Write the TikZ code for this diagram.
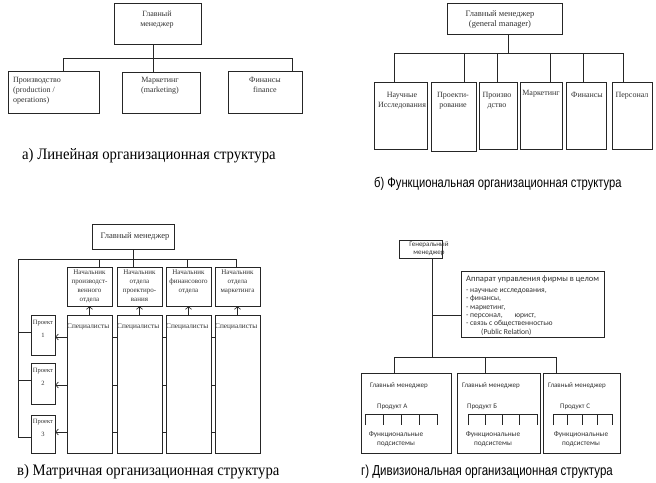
\documentclass[tikz,border=0pt]{standalone}
\usepackage{fontspec}
\setmainfont{Liberation Serif}
\newfontfamily\capsans[FakeStretch=0.80]{Liberation Sans}
\newfontfamily\capserif[FakeStretch=0.92]{Liberation Serif}
\newfontfamily\calfont{Carlito}
\usetikzlibrary{arrows.meta,backgrounds,fit}
\begin{document}
\begin{tikzpicture}[x=1pt,y=-1pt,
  ln/.style={draw=black!85, line width=0.65pt},
  box/.style={ln, fill=white, inner sep=0pt},
  arr/.style={ln, -{Straight Barb[length=2.6pt,width=6pt]}},
  txt/.style={inner sep=0pt, text=black!80, align=center, font=\fontsize{8}{10}\selectfont},
  smalltxt/.style={inner sep=0pt, text=black!80, align=center, font=\fontsize{7}{9}\selectfont},
  dtxt/.style={inner sep=0pt, text=black!80, align=left, font=\calfont\fontsize{7}{8.6}\selectfont},
  capA/.style={inner sep=0pt, anchor=west, font=\capserif\fontsize{16}{18}\selectfont},
  capB/.style={inner sep=0pt, anchor=west, font=\capsans\fontsize{14}{16}\selectfont}
]
\useasboundingbox (0,0) rectangle (656,482);

% ---------------- a) linear
\node[box, fit={(114,3)(201,44)}] (a0) {};
\node[txt, anchor=north] (a0t) at (157,11) {Главный\\менеджер};
\node[box, fit={(8,71)(99,113)}] (a1) {};
\node[txt, anchor=north west, align=left] (a1t) at (13,77) {Производство\\(production /\\operations)};
\node[box, fit={(122,72)(200,113)}] (a2) {};
\node[txt, anchor=north] (a2t) at (160,77) {Маркетинг\\(marketing)};
\node[box, fit={(228,71)(302,113)}] (a3) {};
\node[txt, anchor=north] (a3t) at (265,77) {Финансы\\finance};
\coordinate (aL) at (63,58);
\coordinate (aM) at (153,58);
\coordinate (aR) at (292,58);
\draw[ln] (aM |- a0.south) -- (aM |- a2.north);
\draw[ln] (aL |- a1.north) -- (aL) -- (aR) -- (aR |- a3.north);
\node[capA] (acap) at (22,156) {а) Линейная организационная структура};

% ---------------- b) functional
\node[box, fit={(447,3)(562,34)}] (b0) {};
\node[txt, anchor=north, font=\fontsize{8.5}{10}\selectfont] (b0t) at (500,10) {Главный менеджер\\(general manager)};
\node[box, fit={(374,82)(427,149)}] (b1) {};
\node[box, fit={(431,82)(476,151)}] (b2) {};
\node[box, fit={(479,82)(517,149)}] (b3) {};
\node[box, fit={(520,82)(562,149)}] (b4) {};
\node[box, fit={(566,82)(606,149)}] (b5) {};
\node[box, fit={(612,82)(652,149)}] (b6) {};
\node[txt, anchor=north] (b1t) at (402,92) {Научные\\Исследования};
\node[txt, anchor=north] (b2t) at (453,92) {Проекти-\\рование};
\node[txt, anchor=north] (b3t) at (497,92) {Произво\\дство};
\node[txt, anchor=north] (b4t) at (541,90) {Маркетинг};
\node[txt, anchor=north] (b5t) at (587,92) {Финансы};
\node[txt, anchor=north] (b6t) at (632,92) {Персонал};
\coordinate (bM) at (508,53);
\coordinate (bx1) at (394,53);
\coordinate (bx2) at (464,53);
\coordinate (bx3) at (497,53);
\coordinate (bx4) at (550,53);
\coordinate (bx5) at (583,53);
\coordinate (bx6) at (623,53);
\draw[ln] (bM |- b0.south) -- (bM);
\draw[ln] (bx1 |- b1.north) -- (bx1) -- (bx6) -- (bx6 |- b6.north);
\draw[ln] (bx2) -- (bx2 |- b2.north);
\draw[ln] (bx3) -- (bx3 |- b3.north);
\draw[ln] (bx4) -- (bx4 |- b4.north);
\draw[ln] (bx5) -- (bx5 |- b5.north);
\node[capB] (bcap) at (374,184) {б) Функциональная организационная структура};

% ---------------- c) matrix
\node[box, fit={(92,224)(174,249)}] (c0) {};
\node[smalltxt, anchor=center, font=\fontsize{8.5}{10}\selectfont] (c0t) at (135,236) {Главный менеджер};
\foreach \i/\xa/\xb in {1/67/112, 2/117/162, 3/166/211, 4/215/260}{
  \node[box, fit={(\xa,267)(\xb,306)}] (h\i) {};
  \node[box, fit={(\xa,315)(\xb,453)}] (s\i) {};
  \node[smalltxt, anchor=north west, font=\fontsize{7.3}{9}\selectfont] (s\i t) at (\xa,323) {Специалисты};
}
\node[smalltxt, anchor=north] (h1t) at (h1.north) [yshift=-3] {Начальник\\производст-\\венного\\отдела};
\node[smalltxt, anchor=north] (h2t) at (h2.north) [yshift=-3] {Начальник\\отдела\\проектиро-\\вания};
\node[smalltxt, anchor=north] (h3t) at (h3.north) [yshift=-3] {Начальник\\финансового\\отдела};
\node[smalltxt, anchor=north] (h4t) at (h4.north) [yshift=-3] {Начальник\\отдела\\маркетинга};
\foreach \i in {1,2,3,4}{ \draw[arr] (s\i.north) -- (h\i.south); }
\node[box, fit={(31,315)(55,355)}] (p1) {};
\node[box, fit={(31,363)(55,404)}] (p2) {};
\node[box, fit={(31,415)(55,453)}] (p3) {};
\node[smalltxt, anchor=north, font=\fontsize{6.5}{13}\selectfont] (p1t) at (43,320) {Проект\\1};
\node[smalltxt, anchor=north, font=\fontsize{6.5}{13}\selectfont] (p2t) at (43,368) {Проект\\2};
\node[smalltxt, anchor=north, font=\fontsize{6.5}{13}\selectfont] (p3t) at (43,419) {Проект\\3};
\coordinate (cL) at (18,259);
\coordinate (cR) at (236,259);
\coordinate (cx1) at (99,259);
\coordinate (cx2) at (133,259);
\coordinate (cx3) at (187,259);
\coordinate (cy1) at (18,332);
\coordinate (cy2) at (18,380);
\coordinate (cy3) at (18,437);
\draw[ln] (cx2 |- c0.south) -- (cx2 |- h2.north);
\draw[ln] (cy3 -| p3.west) -- (cy3) -- (cL) -- (cR) -- (cR |- h4.north);
\draw[ln] (cx1) -- (cx1 |- h1.north);
\draw[ln] (cx3) -- (cx3 |- h3.north);
\draw[ln] (cy1) -- (cy1 -| p1.west);
\draw[ln] (cy2) -- (cy2 -| p2.west);
\coordinate (ca1) at (0,337);
\coordinate (ca2) at (0,385);
\coordinate (ca3) at (0,432);
\begin{scope}[on background layer]
\draw[arr] (ca1 -| s4.west) -- (ca1 -| p1.east);
\draw[arr] (ca2 -| s4.west) -- (ca2 -| p2.east);
\draw[arr] (ca3 -| s4.west) -- (ca3 -| p3.east);
\end{scope}
\node[capA] (ccap) at (17,472) {в) Матричная организационная структура};

% ---------------- d) divisional
\node[box, fit={(399,240)(442,258)}] (d0) {};
\node[dtxt, align=center, anchor=north, font=\calfont\fontsize{7}{8.4}\selectfont] (d0t) at (429,241.5) {Генеральный\\менеджер};
\node[box, fit={(461,271)(604,337)}] (app) {};
\node[dtxt, anchor=north west, font=\calfont\fontsize{8.5}{9}\selectfont] (appt) at (466,275.5) {Аппарат управления фирмы в целом};
\node[dtxt, anchor=north west, font=\calfont\fontsize{7.6}{8.4}\selectfont] (appl) at (466,288.5) {- научные исследования,\\- финансы,\\- маркетинг,\\- персонал,\hspace{12pt}юрист,\\- связь с общественностью\\\hspace{15pt}(Public Relation)};
\coordinate (dM) at (432,357);
\coordinate (dB) at (432,315);
\coordinate (dx1) at (394,357);
\coordinate (dx2) at (485,357);
\coordinate (dx3) at (556,357);
\node[box, fit={(361,373)(451,453)}] (v1) {};
\node[box, fit={(457,373)(540,453)}] (v2) {};
\node[box, fit={(543,373)(620,453)}] (v3) {};
\draw[ln] (dM |- d0.south) -- (dM);
\draw[ln] (dB) -- (dB -| app.west);
\draw[ln] (dx1 |- v1.north) -- (dx1) -- (dx3) -- (dx3 |- v3.north);
\draw[ln] (dx2) -- (dx2 |- v2.north);
\foreach \i/\xg/\xp/\ca/\cb/\xf/\pl in {1/370/377/365/437/396/А, 2/462/467/468/537/493/Б, 3/548/560/553/612/581/С}{
  \node[dtxt, anchor=west] (g\i) at (\xg,386) {Главный менеджер};
  \node[dtxt, anchor=west] (pr\i) at (\xp,407) {Продукт \pl};
  \draw[ln] (\ca,425) -- (\ca,414) -- (\cb,414) -- (\cb,425);
  \foreach \k in {1,2,3}{ \draw[ln] ({\ca+\k*(\cb-\ca)/4},414) -- ({\ca+\k*(\cb-\ca)/4},425); }
  \node[dtxt, align=center, anchor=north, font=\calfont\fontsize{7.3}{9}\selectfont] (f\i) at (\xf,431) {Функциональные\\подсистемы};
}
\node[capB, font=\capsans\fontsize{14.4}{16}\selectfont] (dcap) at (361,472) {г) Дивизиональная организационная структура};
\end{tikzpicture}
\end{document}
